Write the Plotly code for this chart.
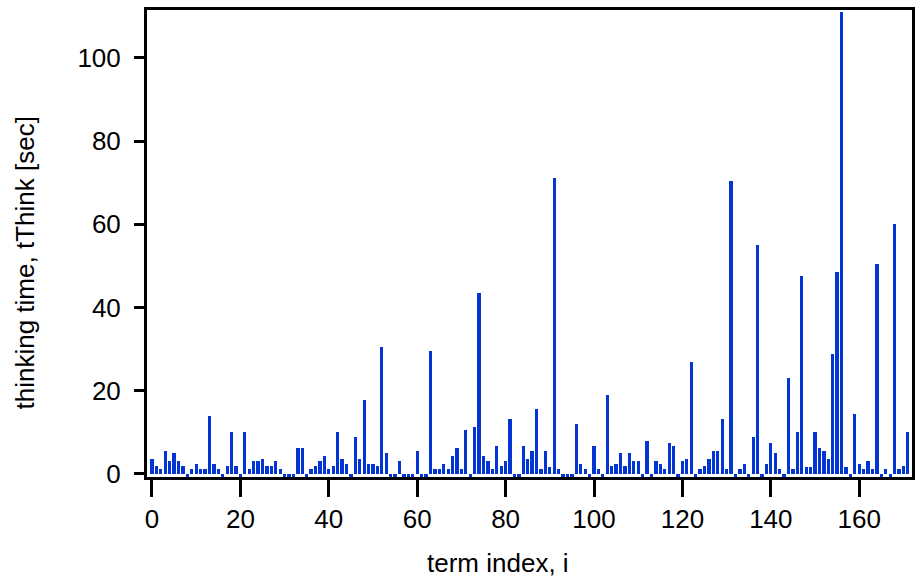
import plotly.graph_objects as go

term_index = list(range(172))
think_time = [
    3.6, 1.8, 1.2, 5.5, 3.0, 5.0, 3.0, 1.8, -1, 1.2,
    2.4, 1.2, 1.2, 13.9, 2.4, 1.2, -1, 1.8, 10.0, 1.8,
    -1, 10.0, 1.2, 3.0, 3.0, 3.6, 1.8, 1.8, 3.0, 1.2,
    -1, -1, -1, 6.2, 6.2, -1, 1.2, 1.8, 3.0, 4.2,
    1.2, 1.8, 10.0, 3.6, 2.4, -1, 8.8, 3.6, 17.7, 2.4,
    2.4, 1.8, 30.5, 5.0, -1, -1, 3.0, -1, -1, -1,
    5.5, -1, -1, 29.5, 1.1, 1.1, 2.3, 1.1, 4.2, 6.2,
    1.1, 10.6, -1, 11.2, 43.5, 4.2, 3.0, 1.1, 6.7, 1.8,
    3.0, 13.2, -1, -1, 6.7, 3.5, 5.5, 15.6, 1.1, 5.5,
    1.6, 71.0, 1.1, -1, -1, -1, 11.9, 2.3, 1.1, -1,
    6.7, 1.1, -1, 19.0, 1.8, 2.3, 5.0, 1.8, 5.0, 3.0,
    3.0, -1, 8.0, -1, 3.0, 2.3, 1.1, 7.4, 6.7, -1,
    3.0, 3.5, 27.0, -1, 1.1, 1.8, 3.5, 5.5, 5.5, 13.2,
    1.1, 70.5, -1, 1.1, 2.3, -1, 8.8, 55.0, -1, 2.3,
    7.4, 5.0, 1.1, -1, 23.0, 1.1, 10.0, 47.5, 1.6, 1.6,
    10.0, 6.2, 5.5, 3.5, 28.8, 48.5, 111.0, 1.6, -1, 14.4,
    2.3, 1.1, 3.0, 1.1, 50.5, -1, 1.1, -1, 60.0, 1.1,
    1.8, 10.0,
]
x_ticks = [0, 20, 40, 60, 80, 100, 120, 140, 160]
y_ticks = [0, 20, 40, 60, 80, 100]
x_title = "term index, i"
y_title = "thinking time, tThink [sec]"

FONT = "Liberation Sans, Arial, sans-serif"
FS = 26

# plot area in pixels: x 147..915, y 10..477
L, R, T, B = 147, 915, 10, 477


def px_x(px):
    return (px - L) / (R - L)


def px_y(py):
    return (B - py) / (B - T)


fig = go.Figure(
    go.Bar(
        x=term_index,
        y=think_time,
        width=0.74,
        marker=dict(color="#0334d4", line=dict(width=0)),
    )
)

fig.update_layout(
    width=915,
    height=578,
    margin=dict(l=L, r=0, t=T, b=578 - B),
    paper_bgcolor="white",
    plot_bgcolor="white",
    showlegend=False,
    bargap=0,
    font=dict(family=FONT, size=FS, color="black"),
    annotations=[
        dict(text=x_title, xref="paper", yref="paper", x=px_x(499), y=px_y(563),
             xanchor="center", yanchor="middle", showarrow=False,
             font=dict(family=FONT, size=FS)),
        dict(text=y_title, xref="paper", yref="paper", x=px_x(25), y=px_y(263),
             xanchor="center", yanchor="middle", showarrow=False, textangle=-90,
             font=dict(family=FONT, size=FS)),
    ],
)

fig.update_xaxes(
    range=[-1.13, 171.94],
    tickvals=x_ticks,
    ticktext=[str(v) for v in x_ticks],
    ticks="outside",
    ticklen=17,
    tickwidth=3,
    tickcolor="black",
    showline=True,
    linewidth=3,
    linecolor="black",
    mirror=True,
    showgrid=False,
    zeroline=False,
    tickfont=dict(family=FONT, size=FS),
)

fig.update_yaxes(
    range=[-0.75, 111.5],
    tickvals=y_ticks,
    ticktext=[str(v) for v in y_ticks],
    ticks="outside",
    ticklen=10,
    tickwidth=3,
    tickcolor="black",
    showline=True,
    linewidth=3,
    linecolor="black",
    mirror=True,
    showgrid=False,
    zeroline=False,
    tickfont=dict(family=FONT, size=FS),
    ticklabelstandoff=8,
)

fig.write_html("out.html")
